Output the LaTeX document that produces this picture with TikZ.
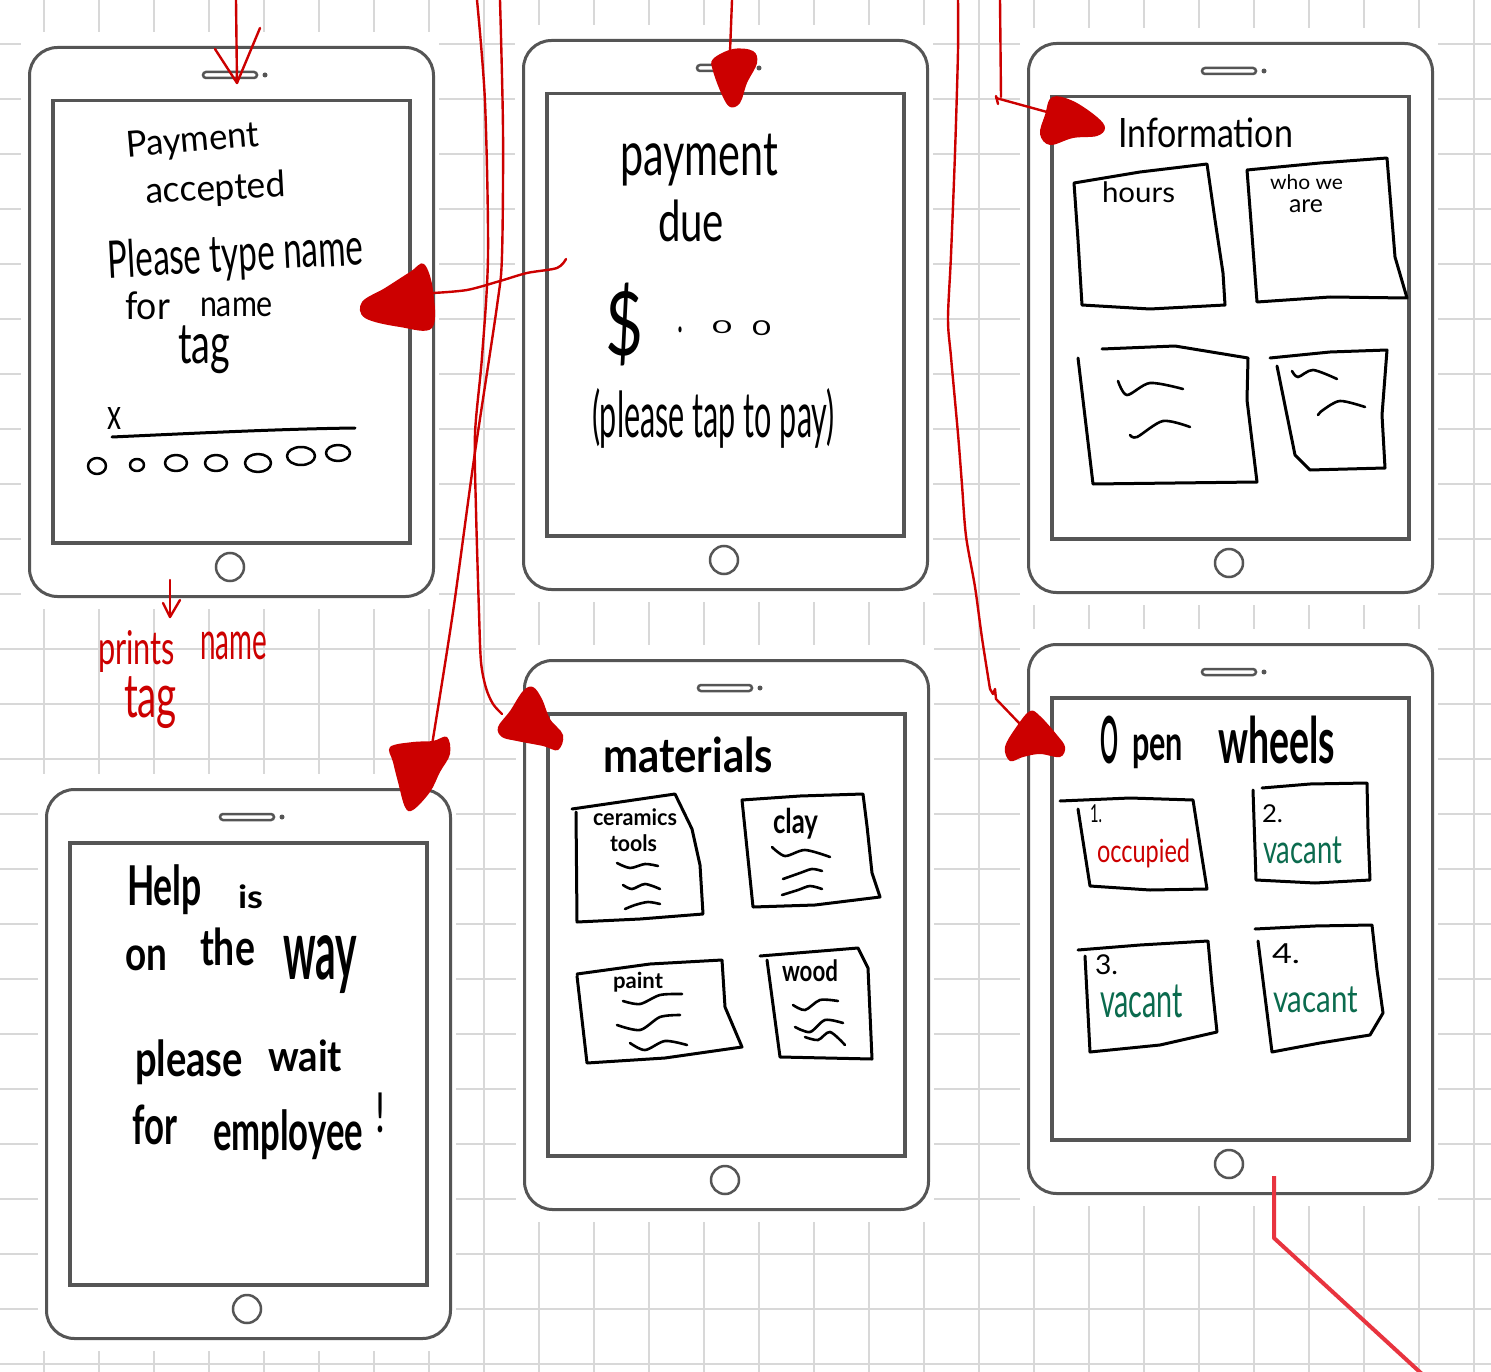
\documentclass[tikz,border=0pt]{standalone}
\usepackage{fontspec}
\usepackage{graphicx}
\newfontfamily\hwfam{Lato}
\definecolor{gridgray}{HTML}{D8D8D8}
\definecolor{tabgray}{HTML}{555555}
\definecolor{inkred}{HTML}{CC0000}
\definecolor{brightred}{HTML}{E8343F}
\definecolor{inkgreen}{HTML}{0B6B4E}
\newcommand\hwbox[3]{\resizebox*{#1pt}{#2pt}{\hwfam #3}}
\newcommand\hwboxb[3]{\resizebox*{#1pt}{#2pt}{\hwfam\bfseries #3}}
\tikzset{
  gridline/.style={draw=gridgray, line width=1.8pt},
  tabbody/.style={draw=tabgray, line width=3pt, rounded corners=28pt, minimum width=404pt, minimum height=549pt, inner sep=0pt, fill=white},
  tabscreen/.style={draw=tabgray, line width=3.5pt, minimum width=357pt, minimum height=442pt, inner sep=0pt},
  tabthin/.style={draw=tabgray, line width=2.5pt},
  homebtn/.style={circle, draw=tabgray, line width=2.5pt, minimum size=28pt, inner sep=0pt},
  hw/.style={inner sep=0pt, outer sep=0pt, anchor=north west},
  ink/.style={draw=black, line width=3pt, line cap=round, line join=round},
  squig/.style={draw=black, line width=2.6pt, line cap=round},
  redline/.style={draw=inkred, line width=2.4pt, line cap=round, line join=round},
  blob/.style={fill=inkred},
}
\newcommand\tablet[3]{%
  \fill[white] (#2-7,#3-14) rectangle (#2+411,#3+563);
  \node[tabbody, anchor=north west] (#1) at (#2,#3) {};
  \node[tabscreen, anchor=north west] (#1s) at (#2+23,#3+53) {};
  \draw[tabthin, rounded corners=3pt] (#2+175,#3+26) rectangle (#2+229,#3+32);
  \fill[tabgray] (#2+237,#3+29) circle (2.5);
  \node[homebtn] (#1h) at (#2+202,#3+521) {};
}
\begin{document}
\begin{tikzpicture}[x=1pt, y=-1pt]
\useasboundingbox (0,0) rectangle (1491,1372);
\fill[white] (0,0) rectangle (1491,1372);
% grid
\foreach \k in {0,...,26} \draw[gridline] (44+55*\k,0) -- (44+55*\k,1372);
\foreach \k in {0,...,24} \draw[gridline] (0,44+55*\k) -- (1491,44+55*\k);
% tablets
\tablet{T1}{28}{46}
\tablet{T2}{522}{39}
\tablet{T3}{1027}{42}
\tablet{T4}{45}{788}
\tablet{T5}{523}{659}
\tablet{T6}{1027}{643}

% ---------- T1: payment accepted
\node[hw, rotate=5] (t1pay) at (125,132) {\hwbox{133}{32}{Payment}};
\node[hw, rotate=3] (t1acc) at (145,177) {\hwbox{140}{33}{accepted}};
\node[hw, rotate=3] (t1please) at (107,240) {\hwbox{255}{47}{Please type name}};
\node[hw] (t1for) at (125,292) {\hwbox{45}{28}{for}};
\node[hw] (t1name) at (200,298) {\hwbox{73}{19}{name}};
\node[hw] (t1tag) at (178,326) {\hwbox{52}{48}{tag}};
\node[hw] (t1x) at (107,407) {\hwbox{14}{22}{x}};
\draw[ink] (112,437) .. controls (200,433) and (280,429) .. (355,428);
\draw[ink, line width=2.5pt] (97,466) ellipse [x radius=9, y radius=8];
\draw[ink, line width=2.5pt] (137,465) ellipse [x radius=7, y radius=6];
\draw[ink, line width=2.5pt] (176,463) ellipse [x radius=11, y radius=8];
\draw[ink, line width=2.5pt] (216,463) ellipse [x radius=11, y radius=8];
\draw[ink, line width=2.5pt] (258,463) ellipse [x radius=13, y radius=9];
\draw[ink, line width=2.5pt] (301,456) ellipse [x radius=14, y radius=9];
\draw[ink, line width=2.5pt] (338,453) ellipse [x radius=12, y radius=8];

% ---------- T2: payment due
\node[hw] (t2pay) at (620,134) {\hwbox{158}{52}{payment}};
\node[hw] (t2due) at (658,200) {\hwbox{66}{42}{due}};
\node[hw] (t2dol) at (605,283) {\hwbox{38}{83}{\$}};
\node[hw] (t2dot) at (677,327) {\hwbox{6}{6}{.}};
\node[hw] (t2za) at (712,321) {\hwbox{20}{13}{0}};
\node[hw] (t2zb) at (752,321) {\hwbox{19}{15}{0}};
\node[hw] (t2tap) at (592,388) {\hwbox{243}{60}{(please tap to pay)}};

% ---------- T3: information
\node[hw] (t3info) at (1118,118) {\hwbox{175}{30}{Information}};
\draw[ink] (1074,183) -- (1140,172) -- (1207,164) -- (1215,220) -- (1223,273) -- (1225,305) -- (1150,309) -- (1082,305) -- (1078,240) -- cycle;
\node[hw] (t3hours) at (1102,182) {\hwbox{73}{21}{hours}};
\draw[ink] (1247,170) -- (1320,163) -- (1387,158) -- (1395,257) -- (1407,298) -- (1330,297) -- (1257,302) -- (1252,235) -- cycle;
\node[hw] (t3who) at (1270,175) {\hwbox{73}{15}{who we}};
\node[hw] (t3are) at (1289,200) {\hwbox{34}{13}{are}};
\draw[ink] (1102,349) -- (1175,346) -- (1248,358) -- (1247,400) -- (1257,482) -- (1093,484) -- (1078,358);
\draw[squig] plot[smooth] coordinates {(1118,381) (1127,395) (1150,383) (1183,389)};
\draw[squig] plot[smooth] coordinates {(1130,435) (1137,437) (1163,421) (1190,427)};
\draw[ink] (1270,358) -- (1330,352) -- (1387,350) -- (1382,415) -- (1385,468) -- (1310,470) -- (1295,455) -- (1277,366);
\draw[squig] plot[smooth] coordinates {(1292,371) (1298,377) (1313,370) (1337,379)};
\draw[squig] plot[smooth] coordinates {(1318,415) (1323,410) (1340,401) (1365,407)};

% ---------- T4: help is on the way
\node[hw] (t4help) at (127,865) {\hwboxb{75}{50}{Help}};
\node[hw] (t4is) at (238,885) {\hwboxb{25}{24}{is}};
\node[hw] (t4on) at (125,946) {\hwboxb{42}{25}{on}};
\node[hw] (t4the) at (200,928) {\hwboxb{55}{38}{the}};
\node[hw] (t4way) at (283,936) {\hwboxb{74}{58}{way}};
\node[hw] (t4please) at (135,1040) {\hwboxb{108}{45}{please}};
\node[hw] (t4wait) at (268,1040) {\hwboxb{74}{32}{wait}};
\node[hw] (t4for) at (132,1105) {\hwboxb{45}{40}{for}};
\node[hw] (t4emp) at (213,1110) {\hwboxb{150}{50}{employee}};
\node[hw] (t4ex) at (375,1093) {\hwbox{10}{40}{!}};

% ---------- T5: materials
\node[hw] (t5mat) at (603,737) {\hwboxb{170}{36}{materials}};
\draw[ink] (572,809) -- (675,794) -- (692,829) -- (700,865) -- (703,914) -- (640,919) -- (577,922) -- (576,812);
\node[hw] (t5cer) at (593,809) {\hwboxb{84}{17}{ceramics}};
\node[hw] (t5tools) at (610,835) {\hwboxb{47}{17}{tools}};
\draw[squig] plot[smooth] coordinates {(617,863) (630,868) (645,864) (658,866)};
\draw[squig] plot[smooth] coordinates {(623,885) (632,889) (645,884) (660,889)};
\draw[squig] plot[smooth] coordinates {(625,909) (635,905) (648,902) (660,904)};
\draw[ink] (742,800) -- (800,796) -- (863,794) -- (867,826) -- (872,873) -- (880,897) -- (815,905) -- (753,907) -- cycle;
\node[hw] (t5clay) at (773,808) {\hwboxb{45}{31}{clay}};
\draw[squig] plot[smooth] coordinates {(772,847) (785,856) (805,850) (830,857)};
\draw[squig] plot[smooth] coordinates {(783,879) (800,873) (812,869) (822,871)};
\draw[squig] plot[smooth] coordinates {(782,895) (798,890) (810,886) (822,889)};
\draw[ink] (577,974) -- (650,964) -- (722,960) -- (725,1007) -- (742,1047) -- (665,1058) -- (587,1063) -- (577,976);
\node[hw] (t5paint) at (613,972) {\hwboxb{50}{20}{paint}};
\draw[squig] plot[smooth] coordinates {(623,1001) (640,1004) (660,995) (682,994)};
\draw[squig] plot[smooth] coordinates {(617,1025) (640,1030) (660,1017) (680,1015)};
\draw[squig] plot[smooth] coordinates {(630,1043) (645,1050) (665,1041) (687,1045)};
\draw[ink] (760,956) -- (858,948) -- (868,968) -- (872,1059) -- (780,1057) -- (767,960);
\node[hw] (t5wood) at (782,960) {\hwboxb{56}{22}{wood}};
\draw[squig] plot[smooth] coordinates {(793,1005) (805,1010) (820,1000) (838,1001)};
\draw[squig] plot[smooth] coordinates {(795,1027) (810,1032) (825,1020) (843,1023)};
\draw[squig] plot[smooth] coordinates {(805,1037) (818,1040) (830,1032) (845,1045)};

% ---------- T6: open wheels
\node[hw] (t6o) at (1100,716) {\hwboxb{18}{48}{O}};
\node[hw] (t6pen) at (1132,735) {\hwboxb{51}{34}{pen}};
\node[hw] (t6wheels) at (1218,716) {\hwboxb{117}{48}{wheels}};
\draw[ink] (1060,801) -- (1130,798) -- (1193,800) -- (1200,845) -- (1207,889) -- (1150,890) -- (1090,886) -- (1078,809);
\node[hw] (t6na) at (1090,805) {\hwbox{12}{18}{1.}};
\node[hw, text=inkred] (t6occ) at (1097,839) {\hwbox{93}{29}{occupied}};
\draw[ink] (1253,790) -- (1256,880) -- (1315,883) -- (1370,880) -- (1368,830) -- (1367,783) -- (1310,784) -- (1262,788);
\node[hw] (t6nb) at (1262,805) {\hwbox{21}{18}{2.}};
\node[hw, text=inkgreen] (t6vb) at (1263,837) {\hwbox{79}{27}{vacant}};
\draw[ink] (1078,950) -- (1140,945) -- (1208,941) -- (1212,985) -- (1217,1032) -- (1160,1045) -- (1090,1052) -- (1085,956);
\node[hw] (t6nc) at (1095,955) {\hwbox{23}{20}{3.}};
\node[hw, text=inkgreen] (t6vc) at (1100,985) {\hwbox{83}{33}{vacant}};
\draw[ink] (1255,929) -- (1315,926) -- (1372,925) -- (1377,970) -- (1383,1013) -- (1370,1035) -- (1320,1043) -- (1272,1052) -- (1258,941);
\node[hw] (t6nd) at (1272,944) {\hwbox{28}{20}{4.}};
\node[hw, text=inkgreen] (t6vd) at (1273,987) {\hwbox{85}{26}{vacant}};

% ---------- red label
\coordinate (pa) at (170,580);
\coordinate (pb) at (170,617);
\draw[redline] (pa) -- (pb);
\draw[redline] (163,603) -- (pb) -- (180,600);
\node[hw, text=inkred] (lprints) at (98,630) {\hwbox{77}{42}{prints}};
\node[hw, text=inkred] (lname) at (200,632) {\hwbox{67}{28}{name}};
\node[hw, text=inkred] (ltag) at (124,677) {\hwbox{53}{52}{tag}};

% ---------- red connectors
% into T1 top
\coordinate (c1s) at (236,0);
\coordinate (c1e) at (237,83);
\draw[redline] (c1s) -- (c1e);
\draw[redline] (215,49) -- (c1e) -- (260,28);
% T2 -> T1
\coordinate (c2s) at (566,259);
\coordinate (c2e) at (433,293);
\draw[redline] plot[smooth] coordinates {(c2s) (557,268) (527,273) (500,281) (467,290) (c2e)};
\fill[blob] plot[smooth cycle, tension=0.6] coordinates {(424,264) (433,290) (432,328) (400,327) (365,318) (362,302) (385,288) (410,272)};
% into T2 top
\coordinate (c3s) at (732,0);
\coordinate (c3e) at (730,52);
\draw[redline] (c3s) -- (c3e);
\fill[blob] plot[smooth cycle, tension=0.6] coordinates {(713,59) (733,49) (753,51) (757,63) (747,83) (740,103) (730,107) (722,95) (713,71)};
% line A -> T5
\coordinate (cAs) at (477,0);
\coordinate (cAe) at (502,714);
\draw[redline] plot[smooth] coordinates {(cAs) (485,102) (488,255) (482,357) (475,434) (476,510) (479,612) (481,662) (486,688) (493,704) (cAe)};
\fill[blob] plot[smooth cycle, tension=0.6] coordinates {(498,727) (510,711) (523,691) (533,687) (542,699) (550,719) (563,735) (558,750) (543,746) (517,741) (502,737)};
% line B -> T4
\coordinate (cBs) at (500,0);
\coordinate (cBe) at (432,745);
\draw[redline] plot[smooth] coordinates {(cBs) (503,130) (502,255) (497,306) (474,459) (453,612) (cBe)};
\fill[blob] plot[smooth cycle, tension=0.6] coordinates {(390,747) (413,742) (433,741) (447,737) (450,754) (440,772) (430,792) (413,810) (405,807) (398,782) (393,762)};
% into T3 information
\coordinate (c5s) at (1000,0);
\coordinate (c5m) at (1001,97);
\coordinate (c5e) at (1047,112);
\draw[redline] (c5s) -- (c5m);
\draw[redline] (996,96) -- (998,104);
\draw[redline] (996,98) -- (c5e);
\fill[blob] plot[smooth cycle, tension=0.6] coordinates {(1052,97) (1073,101) (1097,117) (1105,128) (1097,136) (1073,138) (1050,145) (1040,134) (1045,115)};
% line -> T6
\coordinate (c6s) at (958,0);
\coordinate (c6e) at (1020,724);
\draw[redline] plot[smooth] coordinates {(c6s) (958,51) (955,153) (951,255) (948,319) (951,357) (958,434) (962,485) (966,536) (975,587) (982,638) (990,689)};
\draw[redline] (990,689) -- (993,694) -- (995,689) -- (996,699) -- (c6e);
\fill[blob] plot[smooth cycle, tension=0.6] coordinates {(1005,747) (1017,726) (1030,711) (1040,716) (1057,735) (1065,747) (1060,757) (1040,754) (1023,757) (1010,761)};
% line out of T6 bottom
\coordinate (c7s) at (1274,1176);
\coordinate (c7m) at (1274,1238);
\coordinate (c7e) at (1422,1374);
\draw[draw=brightred, line width=4pt, line join=round] (c7s) -- (c7m) -- (c7e);
\end{tikzpicture}
\end{document}
